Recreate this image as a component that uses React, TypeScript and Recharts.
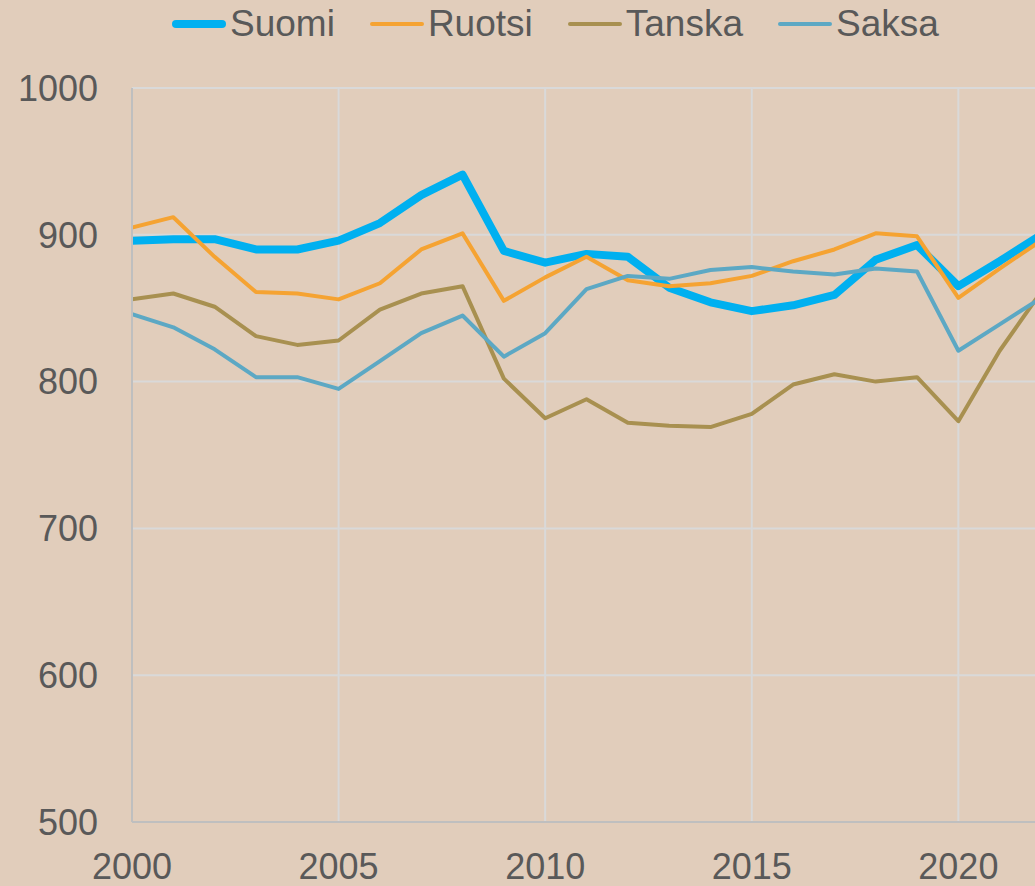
import React from "react";
import { LineChart, Line, XAxis, YAxis, CartesianGrid, Legend } from "recharts";

const years = [2000, 2001, 2002, 2003, 2004, 2005, 2006, 2007, 2008, 2009, 2010, 2011, 2012, 2013, 2014, 2015, 2016, 2017, 2018, 2019, 2020, 2021, 2022];
const suomi = [896, 897, 897, 890, 890, 896, 908, 927, 941, 889, 881, 887, 885, 864, 854, 848, 852, 859, 883, 893, 865, 882, 900];
const ruotsi = [905, 912, 885, 861, 860, 856, 867, 890, 901, 855, 871, 885, 869, 865, 867, 872, 882, 890, 901, 899, 857, 877, 896];
const tanska = [856, 860, 851, 831, 825, 828, 849, 860, 865, 802, 775, 788, 772, 770, 769, 778, 798, 805, 800, 803, 773, 821, 861];
const saksa = [846, 837, 822, 803, 803, 795, 814, 833, 845, 817, 833, 863, 872, 870, 876, 878, 875, 873, 877, 875, 821, 839, 857];

const xTicks = [2000, 2005, 2010, 2015, 2020];
const yTicks = [500, 600, 700, 800, 900, 1000];

const seriesNames = ["Suomi", "Ruotsi", "Tanska", "Saksa"];
const seriesColors = ["#00B0F0", "#F5A332", "#A89050", "#5CA8C4"];
const seriesWidths = [8, 4, 4, 4];

const data = years.map((y, i) => ({
  year: y,
  Suomi: suomi[i],
  Ruotsi: ruotsi[i],
  Tanska: tanska[i],
  Saksa: saksa[i],
}));

const FONT = '"Liberation Sans", Arial, sans-serif';
const TEXT = "#595959";

const LegendContent = () => (
  <div style={{ display: "flex", alignItems: "center", paddingLeft: 172, paddingTop: 2, fontFamily: FONT, fontSize: 37, color: TEXT, whiteSpace: "nowrap" }}>
    {seriesNames.map((n, i) => (
      <div key={n} style={{ display: "flex", alignItems: "center", marginRight: i < seriesNames.length - 1 ? 35 : 0 }}>
        <span
          style={{
            display: "inline-block",
            width: 54,
            height: seriesWidths[i],
            borderRadius: seriesWidths[i] / 2,
            background: seriesColors[i],
            marginRight: 4,
          }}
        />
        <span style={{ lineHeight: "44px" }}>{n}</span>
      </div>
    ))}
  </div>
);

export default function App() {
  return (
    <div style={{ position: "absolute", left: 0, top: 0, width: 1035, height: 886, overflow: "hidden", background: "#E1CDBB" }}>
      <LineChart width={1041} height={886} data={data} margin={{ top: 88, right: 0, left: 0, bottom: 0 }}>
        <CartesianGrid stroke="#D9D9D9" strokeWidth={2} />
        <XAxis
          dataKey="year"
          type="number"
          domain={[2000, 2022]}
          ticks={xTicks}
          allowDataOverflow
          tickLine={false}
          axisLine={{ stroke: "#BFBFBF", strokeWidth: 2 }}
          tickMargin={25}
          tick={{ fill: TEXT, fontSize: 36, fontFamily: FONT }}
          height={64}
        />
        <YAxis
          type="number"
          domain={[500, 1000]}
          ticks={yTicks}
          tickLine={false}
          axisLine={{ stroke: "#BFBFBF", strokeWidth: 2 }}
          tickMargin={28}
          tick={{ fill: TEXT, fontSize: 36, fontFamily: FONT }}
          width={132}
        />
        <Legend verticalAlign="middle" wrapperStyle={{ top: 0, left: 0, width: 1035 }} content={() => <LegendContent />} />
        {seriesNames.map((n, i) => (
          <Line
            key={n}
            type="linear"
            dataKey={n}
            stroke={seriesColors[i]}
            strokeWidth={seriesWidths[i]}
            dot={false}
            isAnimationActive={false}
            strokeLinejoin="round"
          />
        ))}
      </LineChart>
    </div>
  );
}
